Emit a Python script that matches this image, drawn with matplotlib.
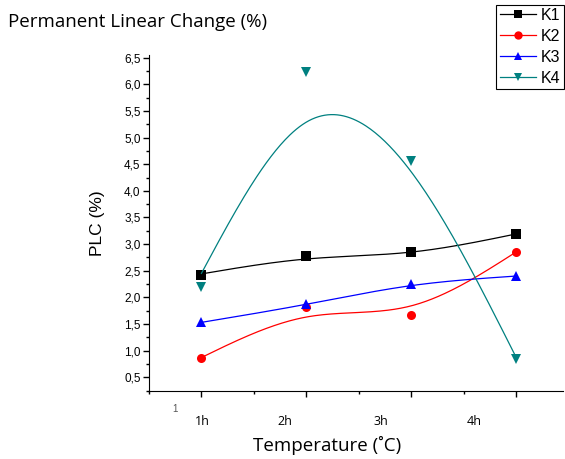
import numpy as np
import matplotlib
matplotlib.use('Agg')
import matplotlib.pyplot as plt
from matplotlib.ticker import MultipleLocator, FuncFormatter

# measured PLC values per sample (markers)
hours = [1, 2, 3, 4]
k1 = [2.42, 2.77, 2.86, 3.19]
k2 = [0.87, 1.82, 1.67, 2.85]
k3 = [1.53, 1.88, 2.25, 2.41]
k4 = [2.20, 6.23, 4.56, 0.84]

# smoothed curve values at each hour (the drawn trend lines)
k1_fit = [2.44, 2.72, 2.85, 3.19]
k2_fit = [0.87, 1.63, 1.84, 2.85]
k3_fit = [1.53, 1.87, 2.22, 2.40]
k4_fit = [2.45, 5.29, 4.36, 0.88]

series = ['K1', 'K2', 'K3', 'K4']
hour_labels = ['1h', '2h', '3h', '4h']


def natural_spline(x, y, n=200):
    # natural cubic spline through the knots
    x = np.asarray(x, float)
    y = np.asarray(y, float)
    h = np.diff(x)
    m = len(x)
    A = np.zeros((m, m))
    b = np.zeros(m)
    A[0, 0] = A[-1, -1] = 1
    for i in range(1, m - 1):
        A[i, i - 1] = h[i - 1]
        A[i, i] = 2 * (h[i - 1] + h[i])
        A[i, i + 1] = h[i]
        b[i] = 6 * ((y[i + 1] - y[i]) / h[i] - (y[i] - y[i - 1]) / h[i - 1])
    M = np.linalg.solve(A, b)
    xs = np.linspace(x[0], x[-1], n)
    ys = np.empty_like(xs)
    for j, xv in enumerate(xs):
        i = min(np.searchsorted(x, xv, side='right') - 1, m - 2)
        t = xv - x[i]
        hi = h[i]
        a = (M[i + 1] - M[i]) / (6 * hi)
        c = (y[i + 1] - y[i]) / hi - hi * (2 * M[i] + M[i + 1]) / 6
        ys[j] = y[i] + c * t + M[i] / 2 * t ** 2 + a * t ** 3
    return xs, ys


plt.rcParams['font.family'] = ['Liberation Sans', 'DejaVu Sans']
label_font = ['Open Sans', 'DejaVu Sans']

fig = plt.figure(figsize=(5.65, 4.59), dpi=100)
ax = fig.add_axes([0.2637, 0.148, 0.733, 0.732])

styles = [('black', 's'), ('red', 'o'), ('blue', '^'), ('#008080', 'v')]
handles = []
for name, pts, fit, (col, mk) in zip(series, [k1, k2, k3, k4],
                                     [k1_fit, k2_fit, k3_fit, k4_fit], styles):
    xs, ys = natural_spline(hours, fit)
    ax.plot(xs, ys, color=col, lw=0.9)
    ax.plot(hours, pts, linestyle='none', marker=mk, color=col,
            markersize=6.5, markeredgewidth=0)
    h, = ax.plot([], [], color=col, lw=0.9, marker=mk, markersize=6,
                 markeredgewidth=0, label=name)
    handles.append(h)

ax.set_xlim(0.5, 4.45)
ax.set_ylim(0.24, 6.55)
ax.spines['top'].set_visible(False)
ax.spines['right'].set_visible(False)
ax.xaxis.set_major_locator(MultipleLocator(1))
ax.xaxis.set_minor_locator(MultipleLocator(0.5))
ax.yaxis.set_major_locator(MultipleLocator(0.5))
ax.yaxis.set_minor_locator(MultipleLocator(0.25))
ax.yaxis.set_major_formatter(FuncFormatter(lambda v, p: f'{v:.1f}'.replace('.', ',')))
ax.set_xticklabels([])
ax.tick_params(axis='both', which='major', length=4, width=1, direction='out')
ax.tick_params(axis='both', which='minor', length=2.5, width=1, direction='out')
ax.tick_params(axis='y', labelsize=8.5, pad=2)

# hour labels under the axis
for xp, lab in zip([1.01, 1.80, 2.71, 3.60], hour_labels):
    ax.text(xp, -0.092, lab, transform=ax.get_xaxis_transform(), ha='center',
            va='center', fontsize=9, family=label_font)
ax.text(0.75, -0.052, '1', transform=ax.get_xaxis_transform(), ha='center',
        va='center', fontsize=7, color='#555555')

fig.text(327 / 565, 1 - 445 / 459, 'Temperature (˚C)', fontsize=13.5,
         family=label_font, ha='center', va='center')
ax.set_ylabel('PLC (%)', fontsize=12.5, labelpad=14)

fig.text(0.014, 0.952, 'Permanent Linear Change (%)', fontsize=13.5,
         family=label_font, va='center')

leg = fig.legend(handles=handles, loc='upper right',
                 bbox_to_anchor=(0.998, 0.99), fontsize=11.5, frameon=True,
                 fancybox=False, edgecolor='black', framealpha=1,
                 handlelength=2.3, handletextpad=0.3, borderpad=0.2,
                 labelspacing=0.38, borderaxespad=0)
leg.get_frame().set_linewidth(0.8)

fig.savefig('out.png', dpi=100)
